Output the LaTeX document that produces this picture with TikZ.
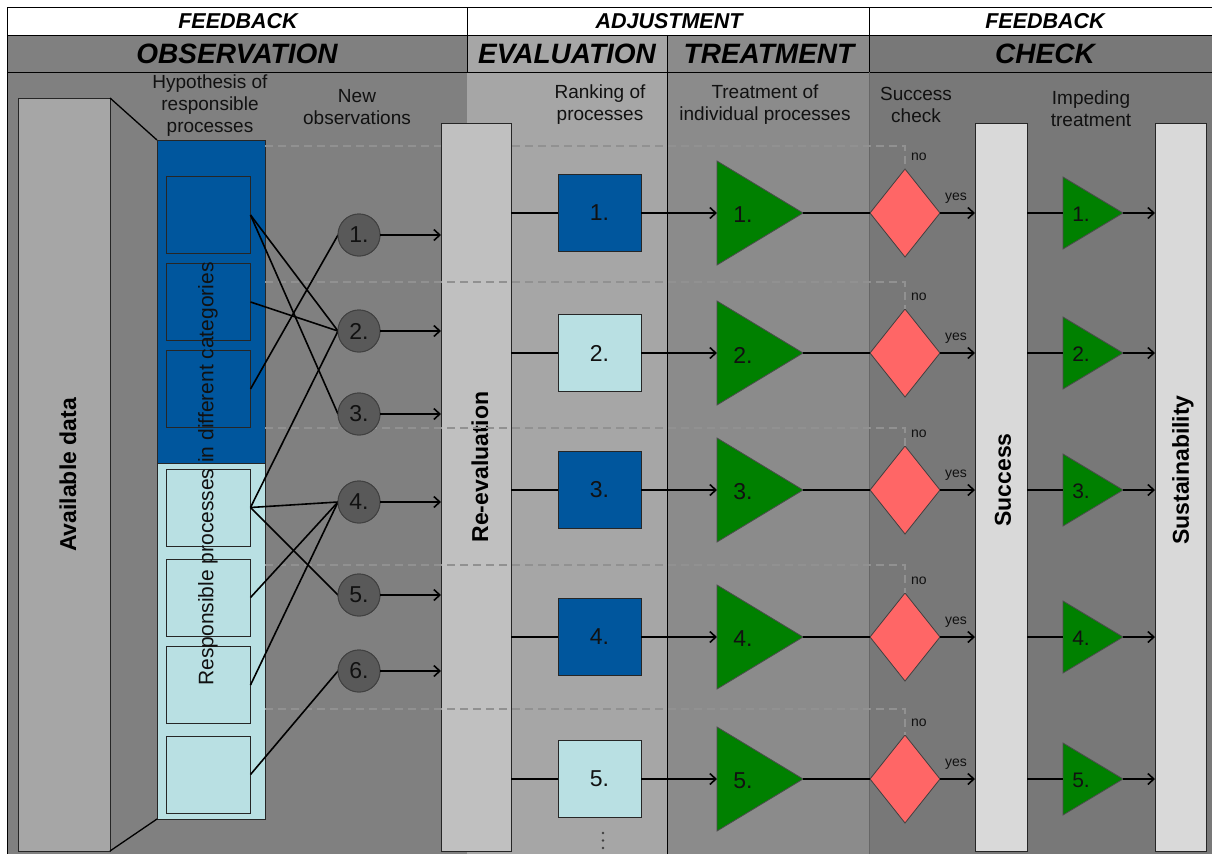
\documentclass[tikz,border=0pt]{standalone}
\usepackage{fontspec}
\setmainfont{Liberation Sans}
\usetikzlibrary{arrows.meta,shapes.geometric}
\definecolor{obsgray}{HTML}{808080}
\definecolor{evagray}{HTML}{A6A6A6}
\definecolor{trtgray}{HTML}{8B8B8B}
\definecolor{chkgray}{HTML}{787878}
\definecolor{pblue}{HTML}{00569D}
\definecolor{pcyan}{HTML}{B9E0E3}
\definecolor{pgreen}{HTML}{008000}
\definecolor{pred}{HTML}{FF6666}
\definecolor{circgray}{HTML}{595959}
\definecolor{availgray}{HTML}{A6A6A6}
\definecolor{reevgray}{HTML}{C0C0C0}
\definecolor{succgray}{HTML}{D9D9D9}
\definecolor{dashgray}{HTML}{919191}
\definecolor{txt}{HTML}{111111}
\definecolor{bodyline}{HTML}{666666}
\tikzset{
  hdrline/.style={black, line width=1pt},
  conn/.style={black, line width=1.6pt},
  arr/.style={conn, -{Straight Barb[length=6pt,width=11pt]}},
  dl/.style={dashgray, line width=1.8pt, dash pattern=on 8pt off 5pt},
  pbox/.style={draw=black!85, line width=0.9pt, inner sep=0pt, outer sep=0pt},
  obscirc/.style={circle, draw=black!75, line width=0.9pt, fill=circgray, minimum size=42pt, inner sep=0pt, outer sep=0pt, text=txt, font=\fontsize{23}{26}\selectfont},
  numlbl/.style={text=txt, font=\fontsize{23}{26}\selectfont, inner sep=0pt},
  smalllbl/.style={text=txt, font=\fontsize{21}{24}\selectfont, inner sep=0pt},
  yeslbl/.style={text=txt, font=\fontsize{14}{16}\selectfont, inner sep=0pt},
  toptitle/.style={font=\bfseries\itshape\fontsize{21.5}{24}\selectfont},
  phasetitle/.style={font=\bfseries\itshape\fontsize{28}{32}\selectfont},
  colhead/.style={align=center, text=txt, font=\fontsize{19}{22}\selectfont, inner sep=0pt},
  vlabel/.style={rotate=90, font=\bfseries\fontsize{23}{26}\selectfont, inner sep=0pt},
  tri/.style={fill=pgreen, draw=black!70, line width=0.8pt},
  dia/.style={diamond, draw=black!75, line width=0.8pt, fill=pred, minimum width=70pt, minimum height=88pt, inner sep=0pt, outer sep=0pt}
}
\begin{document}
\begin{tikzpicture}[x=1pt,y=-1pt]
\useasboundingbox (0,0) rectangle (1212,854);
% backgrounds
\fill[white] (0,0) rectangle (1212,854);
\fill[obsgray] (7,35) rectangle (467,854);
\fill[evagray] (467,35) rectangle (667,854);
\fill[trtgray] (667,35) rectangle (869,854);
\fill[chkgray] (869,35) rectangle (1212,854);
\draw[hdrline] (7,7) -- (1212,7) (7,35) -- (1212,35) (7,72) -- (1212,72)
  (7,7) -- (7,854) (467,7) -- (467,72) (869,7) -- (869,72) (667,35) -- (667,854);
\draw[bodyline, line width=1pt] (869,72) -- (869,854);
% header texts
\node[toptitle] at (238,21) {FEEDBACK};
\node[toptitle] at (669,21) {ADJUSTMENT};
\node[toptitle] at (1045,21) {FEEDBACK};
\node[phasetitle] at (237,54) {OBSERVATION};
\node[phasetitle] at (567,54) {EVALUATION};
\node[phasetitle] at (769,54) {TREATMENT};
\node[phasetitle] at (1045,54) {CHECK};
% column headings
\node[colhead] at (210,106) {Hypothesis of\\responsible\\processes};
\node[colhead] at (357,107) {New\\observations};
\node[colhead] at (600,105) {Ranking of\\processes};
\node[colhead] at (765,105) {Treatment of\\individual processes};
\node[colhead] at (916,105) {Success\\check};
\node[colhead] at (1091,109) {Impeding\\treatment};
% available data and hypothesis box
\node[pbox, fill=availgray, minimum width=92pt, minimum height=753pt] (avail) at (64,474.5) {};
\node[vlabel] at (68,475) {Available data};
\node[pbox, fill=pblue, minimum width=108pt, minimum height=323pt] (hypA) at (211,301.5) {};
\node[pbox, fill=pcyan, minimum width=108pt, minimum height=356pt] (hypB) at (211,641) {};
\draw[black, line width=1.3pt] (avail.north east) -- (hypA.north west);
\draw[black, line width=1.3pt] (avail.south east) -- (hypB.south west);
\foreach \i/\y/\col in {1/215/pblue,2/302/pblue,3/389/pblue,4/507.5/pcyan,5/597.5/pcyan,6/685/pcyan,7/774.5/pcyan}
  \node[pbox, fill=\col, minimum width=84pt, minimum height=77pt] (b\i) at (208.5,\y) {};
\node[rotate=90, text=txt, font=\fontsize{21}{24}\selectfont, inner sep=0pt] at (208,474) {Responsible processes in different categories};
% diamonds
\foreach \i/\y in {1/213,2/353,3/490,4/637,5/779}
  \node[dia] (d\i) at (905,\y) {};
% dashed feedback line of row 1 (behind re-evaluation)
\coordinate (n1) at (265,146);
\draw[dl] (n1) -- (n1 -| d1.north) -- (d1.north);
% tall boxes
\node[pbox, fill=reevgray, minimum width=70pt, minimum height=728pt] (reev) at (476,487) {};
\node[vlabel] at (480,467) {Re-evaluation};
\node[pbox, fill=succgray, minimum width=52pt, minimum height=728pt] (succ) at (1001,487) {};
\node[vlabel] at (1003,480) {Success};
\node[pbox, fill=succgray, minimum width=51pt, minimum height=728pt] (sust) at (1180.5,487) {};
\node[vlabel] at (1183,470) {Sustainability};
% dashed feedback lines rows 2-5
\foreach \i/\y in {2/282,3/428,4/565,5/709}{
  \coordinate (n\i) at (265,\y);
  \draw[dl] (n\i) -- (n\i -| d\i.north) -- (d\i.north);
}
% observations
\foreach \i/\y in {1/235,2/331,3/414,4/502,5/595,6/671}
  \node[obscirc] (c\i) at (359,\y) {};
\foreach \a/\b in {1/2,1/3,2/2,3/1,4/2,4/4,4/5,5/4,6/4,7/6}
  \draw[conn] (b\a.east) -- (c\b.west);
\foreach \i in {1,...,6}{
  \node[obscirc] at (c\i) {\i.};
  \draw[arr] (c\i.east) -- (c\i.east -| reev.west);
}
% rows
\foreach \i/\y/\col in {1/213/pblue,2/353/pcyan,3/490/pblue,4/637/pblue,5/779/pcyan}{
  \node[pbox, fill=\col, minimum width=83pt, minimum height=77pt, text=txt, font=\fontsize{23}{26}\selectfont] (r\i) at (599.5,\y) {\i.};
  \coordinate (t\i) at (717,\y);
  \coordinate (tt\i) at (803,\y);
  \filldraw[tri] (717,\y-52) -- (tt\i) -- (717,\y+52) -- cycle;
  \node[numlbl] at (743,\y+2) {\i.};
  \coordinate (i\i) at (1063,\y);
  \coordinate (it\i) at (1123,\y);
  \filldraw[tri] (1063,\y-36) -- (it\i) -- (1063,\y+36) -- cycle;
  \node[smalllbl] at (1081,\y+1) {\i.};
  \draw[conn] (reev.east |- r\i.west) -- (r\i.west);
  \draw[arr] (r\i.east) -- (t\i);
  \draw[conn] (tt\i) -- (d\i.west);
  \draw[arr] (d\i.east) -- (d\i.east -| succ.west);
  \node[yeslbl] at ([xshift=16pt,yshift=15pt]d\i.east) {yes};
  \node[yeslbl, anchor=west] at ([xshift=6pt,yshift=12pt]d\i.north) {no};
  \draw[conn] (succ.east |- i\i) -- (i\i);
  \draw[arr] (it\i) -- (it\i -| sust.west);
}
% continuation dots
\foreach \y in {833,840.5,848}
  \fill[black!75] (603,\y) circle (1.3pt);
\end{tikzpicture}
\end{document}
